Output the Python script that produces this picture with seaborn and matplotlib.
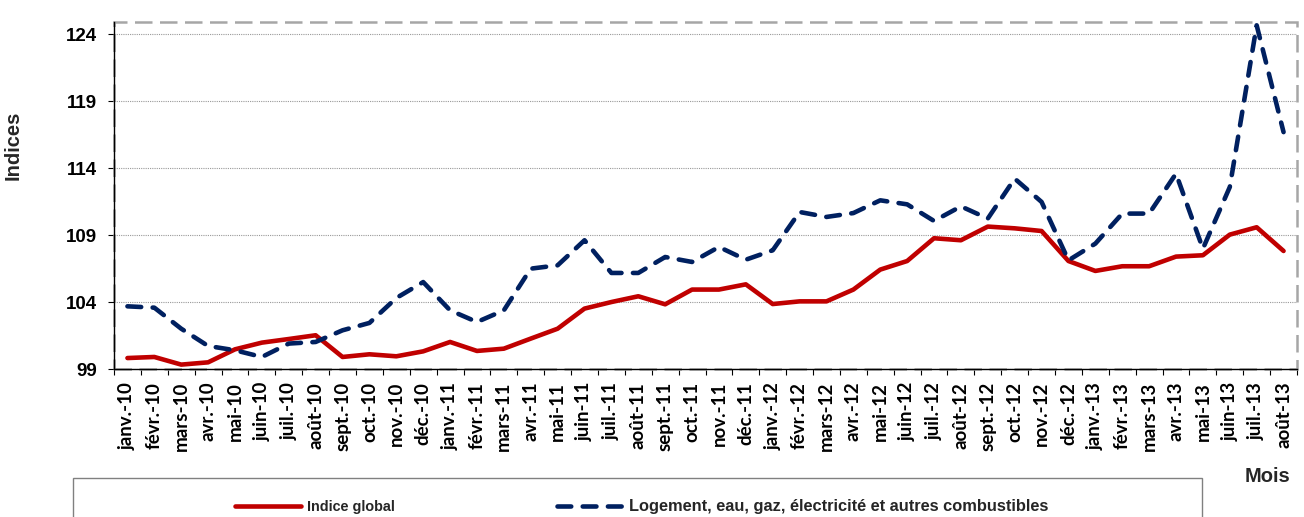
import matplotlib.pyplot as plt
import numpy as np
import pandas as pd
import seaborn as sns
from matplotlib.patches import Rectangle


noms_mois = ['janv.', 'févr.', 'mars', 'avr.', 'mai', 'juin',
             'juil.', 'août', 'sept.', 'oct.', 'nov.', 'déc.']
mois = ([m + '-10' for m in noms_mois] + [m + '-11' for m in noms_mois]
        + [m + '-12' for m in noms_mois] + [m + '-13' for m in noms_mois[:8]])

indice_global = [99.84, 99.92, 99.35, 99.52, 100.49, 100.99, 101.26, 101.54,
                 99.92, 100.12, 99.97, 100.34,
                 101.04, 100.37, 100.54, 101.29, 102.03, 103.53, 104.02, 104.45,
                 103.85, 104.95, 104.95, 105.34,
                 103.87, 104.07, 104.07, 104.95, 106.44, 107.08, 108.78, 108.63,
                 109.65, 109.52, 109.32, 107.08,
                 106.34, 106.69, 106.69, 107.41, 107.51, 109.05, 109.60, 107.83]
logement = [103.70, 103.60, 102.03, 100.74, 100.42, 99.92, 100.92, 101.04,
            101.91, 102.46, 104.32, 105.51,
            103.40, 102.53, 103.40, 106.51, 106.76, 108.63, 106.19, 106.19,
            107.38, 107.01, 108.13, 107.18,
            107.88, 110.74, 110.37, 110.66, 111.61, 111.31, 110.07, 111.16,
            110.25, 113.23, 111.49, 107.13,
            108.38, 110.62, 110.62, 113.60, 108.00, 112.60, 124.67, 116.70]
y_ticks = [99, 104, 109, 114, 119, 124]

lab_global = 'Indice global'
lab_logement = 'Logement, eau, gaz, électricité et autres combustibles'

sns.set_theme(style='white')
plt.rcParams['font.family'] = ['Liberation Sans', 'DejaVu Sans']

W, H = 1304, 517
fig = plt.figure(figsize=(W / 100, H / 100), dpi=100)
ax = fig.add_axes([114 / W, 1 - 369.3 / H, (1297 - 114) / W, (369.3 - 21.7) / H])

df = pd.DataFrame({'pos': np.arange(len(mois)),
                   'global': indice_global,
                   'logement': logement})

sns.lineplot(data=df, x='pos', y='global', ax=ax, color='#C00000', lw=3.3,
             label=lab_global, zorder=4)
sns.lineplot(data=df, x='pos', y='logement', ax=ax, color='#002060', lw=3.3,
             linestyle=(0, (3.0, 2.5)), dash_capstyle='round',
             label=lab_logement, zorder=5)

handles, labels = ax.get_legend_handles_labels()
ax.get_legend().remove()

# axes
ax.set_xlim(-0.5, len(mois) - 0.5)
ax.set_ylim(99, 124.94)
ax.set_xticks(np.arange(len(mois)))
ax.set_xticklabels(mois, rotation=90, fontsize=13.5, fontweight='bold',
                   family=['Lato', 'DejaVu Sans'])
ax.set_xticks(np.arange(-0.5, len(mois)), minor=True)
ax.tick_params(axis='x', which='major', length=0, pad=9, colors='black')
ax.tick_params(axis='x', which='minor', bottom=True, length=4.5,
               direction='out', width=0.8, color='black')
ax.set_yticks(y_ticks)
ax.set_yticklabels([str(v) for v in y_ticks], fontsize=13.5, fontweight='bold')
ax.tick_params(axis='y', left=True, length=4.5, width=0.8, direction='out',
               pad=8, colors='black')

ax.yaxis.grid(True, linestyle=(0, (1, 1)), color='#999999', lw=0.8)
ax.xaxis.grid(False)

for side in ['top', 'right']:
    ax.spines[side].set_visible(False)
for side in ['left', 'bottom']:
    ax.spines[side].set_color('black')
    ax.spines[side].set_linewidth(1)
    ax.spines[side].set_zorder(6)

# bordure pointillee de la zone de tracé
ax.add_patch(Rectangle((0, 0), 1, 1, transform=ax.transAxes, fill=False,
                       ec='#A6A6A6', lw=1.8, ls=(0, (7, 3)), clip_on=False,
                       zorder=3))

ax.set_xlabel('')
ax.set_ylabel('Indices', fontsize=14.5, fontweight='bold')
ax.yaxis.set_label_coords((23 - 114) / 1183, (369.3 - 145) / 347.6)

fig.text(1267 / W, 1 - 476 / H, 'Mois', ha='center', va='center',
         fontsize=14.5, fontweight='bold')

# cadre de la légende (coupé en bas)
fig.add_artist(Rectangle((73 / W, -0.1), (1202 - 73) / W, 0.1 + 1 - 478 / H,
                         transform=fig.transFigure, fill=False,
                         ec='#808080', lw=1))
leg = fig.legend(handles, labels, loc='center left',
                 bbox_to_anchor=(235 / W, 1 - 506.7 / H), ncol=2,
                 frameon=False, prop={'size': 10.4, 'weight': 'bold'},
                 handlelength=4.6, handletextpad=0.4, columnspacing=11.2,
                 borderpad=0, borderaxespad=0)
leg.get_texts()[1].set_fontsize(11.8)

fig.savefig('out.png', dpi=100)
